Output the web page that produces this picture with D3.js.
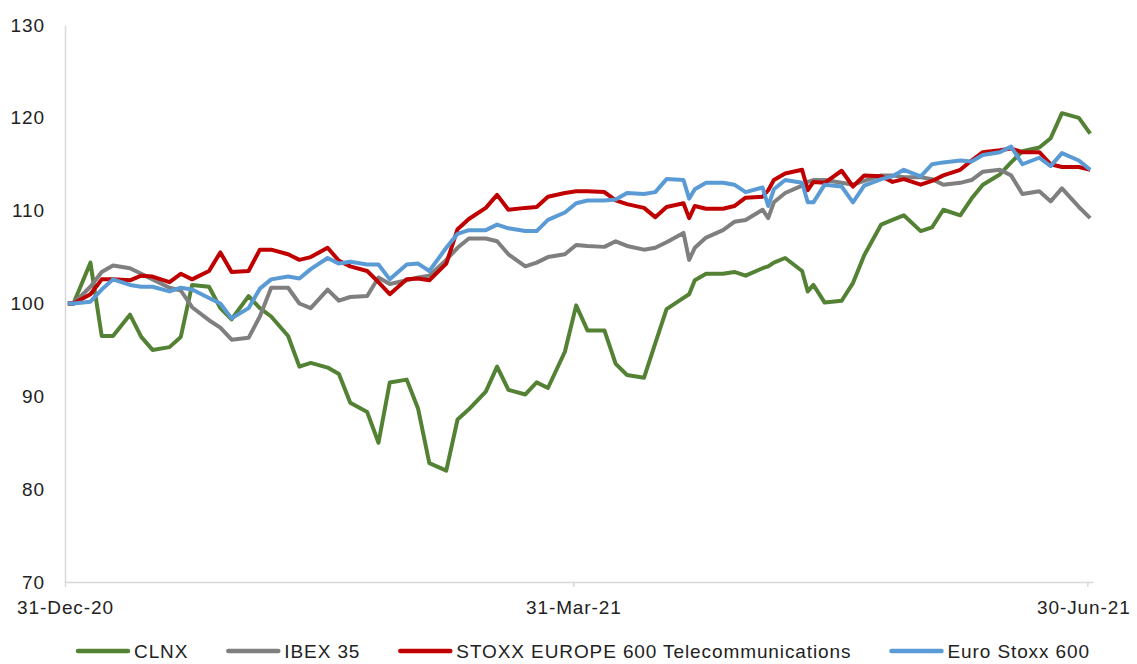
<!DOCTYPE html>
<html>
<head>
<meta charset="utf-8">
<script src="https://cdn.jsdelivr.net/npm/d3@7"></script>
<style>
  html, body { margin: 0; padding: 0; background: #fff; }
  #chart { width: 1137px; height: 664px; }
  text { font-family: "Liberation Sans", Arial, sans-serif; fill: #222; }
</style>
</head>
<body>
<div id="chart"></div>
<script>
// trading dates (sampled) and indexed performance, base 100 = 31-Dec-20
var dates = ["2020-12-31","2021-01-01","2021-01-04","2021-01-06","2021-01-08","2021-01-11","2021-01-13","2021-01-15","2021-01-18","2021-01-20","2021-01-22",
  "2021-01-25","2021-01-27","2021-01-29","2021-02-01","2021-02-03","2021-02-05","2021-02-08","2021-02-10","2021-02-12","2021-02-15",
  "2021-02-17","2021-02-19","2021-02-22","2021-02-24","2021-02-26","2021-03-01","2021-03-03","2021-03-05","2021-03-08","2021-03-10",
  "2021-03-12","2021-03-15","2021-03-17","2021-03-19","2021-03-22","2021-03-24","2021-03-26","2021-03-29","2021-03-31","2021-04-02",
  "2021-04-05","2021-04-07","2021-04-09","2021-04-12","2021-04-14","2021-04-16","2021-04-19","2021-04-20","2021-04-21","2021-04-23",
  "2021-04-26","2021-04-28","2021-04-30","2021-05-03","2021-05-04","2021-05-05","2021-05-07","2021-05-10","2021-05-11","2021-05-12",
  "2021-05-14","2021-05-17","2021-05-19","2021-05-21","2021-05-24","2021-05-26","2021-05-28","2021-05-31","2021-06-02","2021-06-04",
  "2021-06-07","2021-06-09","2021-06-11","2021-06-14","2021-06-16","2021-06-18","2021-06-21","2021-06-23","2021-06-25","2021-06-28",
  "2021-06-30"];

var clnx = [100,100,104.4,96.5,96.5,98.8,96.4,95.0,95.3,96.4,102.0,
  101.8,99.5,98.3,100.8,99.5,98.6,96.5,93.2,93.6,93.1,
  92.4,89.3,88.3,85.0,91.5,91.8,88.7,82.8,82.0,87.5,
  88.6,90.5,93.2,90.7,90.2,91.5,90.9,94.8,99.8,97.1,
  97.1,93.5,92.3,92.0,95.7,99.4,100.6,101.0,102.5,103.2,
  103.2,103.4,103.0,103.8,104.0,104.4,104.9,103.5,101.3,102.0,
  100.1,100.3,102.2,105.2,108.5,109.0,109.5,107.8,108.2,110.1,
  109.5,111.3,112.8,113.9,115.2,116.4,116.8,117.8,120.5,120.0,
  118.3];

var ibex = [100,100,101.8,103.4,104.1,103.8,103.2,102.6,101.7,101.4,99.6,
  98.2,97.4,96.1,96.3,98.6,101.7,101.7,100.0,99.5,101.5,
  100.3,100.7,100.8,102.8,102.1,102.5,102.8,103.0,104.7,106.0,
  107.0,107.0,106.7,105.3,104.0,104.4,105.0,105.3,106.3,106.2,
  106.1,106.7,106.2,105.8,106.0,106.6,107.6,104.7,106.0,107.1,
  107.9,108.8,109.0,110.1,109.2,110.9,111.9,112.7,113.1,113.3,
  113.3,113.0,112.8,113.2,113.8,113.8,113.6,113.6,113.4,112.8,
  113.0,113.3,114.2,114.4,113.8,111.8,112.1,111.0,112.4,110.4,
  109.2];

var stoxxTelecom = [100,100,101.0,102.6,102.6,102.5,103.0,102.9,102.3,103.2,102.6,
  103.5,105.5,103.4,103.5,105.8,105.8,105.3,104.7,105.0,106.0,
  104.6,104.0,103.5,102.3,101.0,102.6,102.7,102.5,104.3,108.0,
  109.1,110.3,111.7,110.1,110.3,110.4,111.5,111.9,112.1,112.1,
  112.0,111.1,110.7,110.3,109.3,110.4,110.8,109.2,110.5,110.2,
  110.2,110.5,111.4,111.5,112.2,113.3,114.0,114.4,112.2,113.1,
  113.0,114.3,112.6,113.8,113.7,113.1,113.4,112.8,113.2,113.8,
  114.4,115.4,116.3,116.5,116.7,116.3,116.3,115.0,114.7,114.7,
  114.4];

var euroStoxx = [100,100,100.2,101.5,102.6,102.0,101.8,101.8,101.3,101.7,101.5,
  100.6,100.0,98.4,99.5,101.6,102.6,102.9,102.7,103.7,104.9,
  104.3,104.5,104.2,104.2,102.6,104.2,104.3,103.5,106.0,107.5,
  107.9,107.9,108.5,108.1,107.8,107.8,109.0,109.8,110.8,111.1,
  111.1,111.2,111.9,111.8,112.0,113.4,113.3,111.3,112.3,113.0,
  113.0,112.8,112.0,112.5,110.5,112.3,113.3,113.0,110.9,110.9,
  112.8,112.6,110.9,112.7,113.4,113.7,114.4,113.7,115.0,115.2,
  115.4,115.3,116.0,116.3,116.9,115.0,115.7,114.8,116.2,115.4,
  114.4];

var seriesNames = ["CLNX", "IBEX 35", "STOXX EUROPE 600 Telecommunications", "Euro Stoxx 600"];
var seriesColors = ["#548235", "#7f7f7f", "#c00000", "#5b9bd5"];
var yTicks = [70, 80, 90, 100, 110, 120, 130];
var xTicks = ["2020-12-31", "2021-03-31", "2021-06-30"];

var W = 1137, H = 664;
var margin = {top: 25, right: 44, bottom: 82, left: 65};
var width = W - margin.left - margin.right,
    height = H - margin.top - margin.bottom;

var parse = d3.utcParse("%Y-%m-%d");
var fmt = d3.utcFormat("%d-%b-%y");

var svg = d3.select("#chart").append("svg")
  .attr("width", W)
  .attr("height", H)
  .append("g")
  .attr("transform", "translate(" + margin.left + "," + margin.top + ")");

var x = d3.scaleUtc()
  .domain([parse("2020-12-31"), d3.utcDay.offset(parse("2021-06-30"), 1)])
  .range([0, width]);
var y = d3.scaleLinear().domain([70, 130]).range([height, 0]);

// each day is plotted in the middle of its slot, like the excel date axis
var xMid = function(s){ return x(d3.utcHour.offset(parse(s), 12)); };

var fontSize = "19px", spacing = "0.9px";

// axes
var yAxis = svg.append("g").attr("class", "yAxis")
  .call(d3.axisLeft(y).tickValues(yTicks).tickSize(0).tickPadding(20));
yAxis.select(".domain").attr("stroke", "#d9d9d9").attr("stroke-width", 1.5);
yAxis.selectAll("text").style("font-size", fontSize).style("letter-spacing", spacing).attr("fill", "#222");

var xAxis = svg.append("g").attr("class", "xAxis")
  .attr("transform", "translate(0," + height + ")")
  .call(d3.axisBottom(x).tickValues(xTicks.map(parse)).tickFormat(fmt).tickSize(5).tickPadding(14).tickSizeOuter(0));
xAxis.select(".domain").attr("stroke", "#d9d9d9").attr("stroke-width", 1.5);
xAxis.selectAll("line").attr("stroke", "#d9d9d9").attr("stroke-width", 1.5);
xAxis.selectAll("text").style("font-size", fontSize).style("letter-spacing", spacing).attr("fill", "#222");
// keep the last label inside the page
xAxis.selectAll("text").filter(function(d, i){ return i === xTicks.length - 1; }).attr("dx", -4);

// lines
var allSeries = [clnx, ibex, stoxxTelecom, euroStoxx];
var line = d3.line()
  .x(function(d, i){ return xMid(dates[i]); })
  .y(function(d){ return y(d); });

svg.selectAll(".series")
  .data(allSeries)
  .enter().append("path")
  .attr("class", "series")
  .attr("fill", "none")
  .attr("stroke", function(d, i){ return seriesColors[i]; })
  .attr("stroke-width", 4)
  .attr("stroke-linejoin", "round")
  .attr("d", line);

// legend, laid out from measured text widths and centred under the plot
var legend = svg.append("g").attr("class", "legend")
  .attr("transform", "translate(0," + (height + 69) + ")");
var swatch = 52, gapText = 6, gapItem = 38;
var items = legend.selectAll(".item")
  .data(seriesNames)
  .enter().append("g")
  .attr("class", "item");
items.append("line")
  .attr("x1", 2).attr("x2", swatch)
  .attr("stroke", function(d, i){ return seriesColors[i]; })
  .attr("stroke-width", 4.5)
  .attr("stroke-linecap", "round");
items.append("text")
  .attr("x", swatch + gapText)
  .attr("dy", "0.35em")
  .style("font-size", fontSize)
  .style("letter-spacing", spacing)
  .text(function(d){ return d; });
var offs = [], cur = 0;
items.each(function(){
  offs.push(cur);
  cur += swatch + gapText + this.querySelector("text").getComputedTextLength() + gapItem;
});
var total = cur - gapItem;
var start = (width - total) / 2 + 4;
items.attr("transform", function(d, i){ return "translate(" + (start + offs[i]) + ",0)"; });
</script>
</body>
</html>
